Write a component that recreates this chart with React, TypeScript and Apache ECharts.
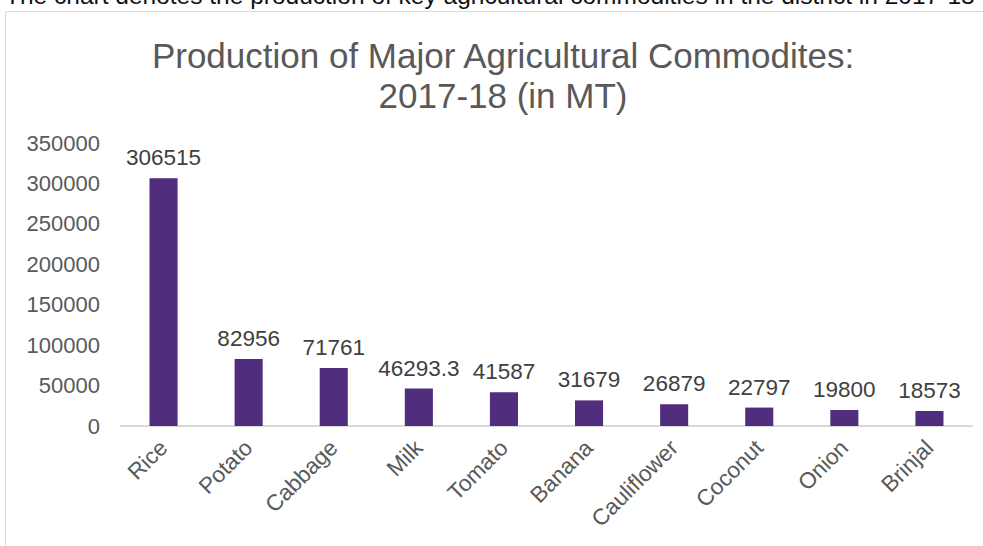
import React, { useEffect, useRef } from "react";
import * as echarts from "echarts";

const categories = ["Rice", "Potato", "Cabbage", "Milk", "Tomato", "Banana", "Cauliflower", "Coconut", "Onion", "Brinjal"];
const production = [306515, 82956, 71761, 46293.3, 41587, 31679, 26879, 22797, 19800, 18573];
const titleLines = ["Production of Major Agricultural Commodites:", "2017-18 (in MT)"];
const caption = "The chart denotes the production of key agricultural commodities in the district in 2017-18";

export default function App() {
  const ref = useRef<HTMLDivElement>(null);
  useEffect(() => {
    if (!ref.current) return;
    const chart = echarts.init(ref.current, null, { renderer: "svg" });
    const font = "'Liberation Sans', Arial, sans-serif";
    chart.setOption({
      animation: false,
      backgroundColor: "#ffffff",
      textStyle: { fontFamily: font },
      graphic: [
        {
          type: "rect",
          shape: { x: 5.5, y: 11.5, width: 1100, height: 700 },
          style: { fill: "none", stroke: "#d9d9d9", lineWidth: 1 },
          silent: true,
        },
        {
          type: "text",
          x: 5,
          y: -5,
          style: {
            text: caption,
            fill: "#111",
            font: `24.5px ${font}`,
            verticalAlign: "middle",
            align: "left",
          },
        },
        {
          type: "text",
          x: 503,
          y: 55,
          style: {
            text: titleLines[0],
            fill: "#595959",
            font: `35px ${font}`,
            verticalAlign: "middle",
            align: "center",
          },
        },
        {
          type: "text",
          x: 503,
          y: 95,
          style: {
            text: titleLines[1],
            fill: "#595959",
            font: `35px ${font}`,
            verticalAlign: "middle",
            align: "center",
          },
        },
      ],
      grid: { left: 121, right: 11, top: 143, bottom: 120, containLabel: false },
      xAxis: {
        type: "category",
        data: categories,
        axisLine: { show: true, lineStyle: { color: "#d9d9d9", width: 2 } },
        axisTick: { show: false },
        axisLabel: {
          rotate: 45,
          interval: 0,
          margin: 18,
          color: "#595959",
          fontSize: 22.5,
          fontFamily: font,
        },
      },
      yAxis: {
        type: "value",
        min: 0,
        max: 350000,
        interval: 50000,
        splitLine: { show: false },
        axisLine: { show: false },
        axisTick: { show: false },
        axisLabel: {
          margin: 21,
          color: "#595959",
          fontSize: 22,
          fontFamily: font,
          formatter: (v: number) => String(v),
        },
      },
      series: [
        {
          type: "bar",
          data: production,
          barWidth: "33%",
          itemStyle: { color: "#512d7e" },
          label: {
            show: true,
            position: "top",
            distance: 9,
            color: "#404040",
            fontSize: 22.5,
            fontFamily: font,
          },
        },
      ],
    });
    return () => chart.dispose();
  }, []);
  return (
    <div
      ref={ref}
      style={{ position: "fixed", left: 0, top: 0, width: 983, height: 546, background: "#fff" }}
    />
  );
}
